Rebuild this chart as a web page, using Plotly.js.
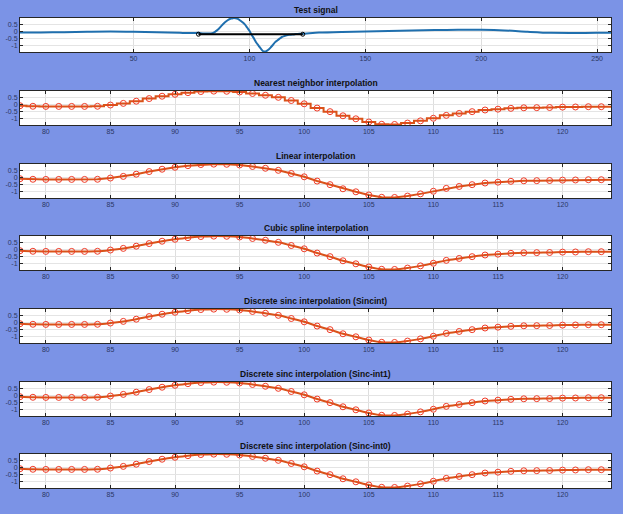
<!DOCTYPE html>
<html>
<head>
<meta charset="utf-8">
<script src="https://cdn.plot.ly/plotly-3.0.1.min.js"></script>
<style>
  html, body { margin: 0; padding: 0; background: #7b93e6; }
  #chart { width: 623px; height: 514px; }
</style>
</head>
<body>
<div id="chart"></div>
<script>
// ---------------- data ----------------
const panelTitles = [
  "Test signal",
  "Nearest neighbor interpolation",
  "Linear interpolation",
  "Cubic spline interpolation",
  "Discrete sinc interpolation (Sincint)",
  "Discrete sinc interpolation (Sinc-int1)",
  "Discrete sinc interpolation (Sinc-int0)"
];

// samples of the zoomed fragment (integer positions)
const sampleX = [78, 79, 80, 81, 82, 83, 84, 85, 86, 87, 88, 89, 90, 91, 92, 93, 94, 95, 96, 97, 98, 99, 100,
                 101, 102, 103, 104, 105, 106, 107, 108, 109, 110, 111, 112, 113, 114, 115, 116, 117, 118, 119, 120, 121, 122, 123];
const sampleY = [-0.07, -0.11, -0.12, -0.12, -0.12, -0.12, -0.11, -0.02, 0.10, 0.26, 0.45, 0.62, 0.76, 0.88, 0.96, 0.99, 0.98, 0.93, 0.82, 0.69, 0.54, 0.31, 0.07,
                 -0.24, -0.50, -0.80, -1.02, -1.25, -1.42, -1.43, -1.33, -1.17, -0.98, -0.77, -0.63, -0.50, -0.38, -0.32, -0.26, -0.22, -0.21, -0.20, -0.17, -0.16, -0.14, -0.14];
// end of the interpolated curves (right edge)
const curveEndX = 123.75;
const curveEndY = -0.14;

// full test signal (1..256)
const testX = [1, 10, 20, 30, 40, 50, 60, 70, 77].concat(sampleX).concat(
               [130, 140, 150, 160, 170, 180, 190, 200, 210, 220, 230, 240, 250, 256]);
const testY = [-0.05, -0.05, -0.03, 0.0, 0.02, 0.0, -0.04, -0.08, -0.09].concat(sampleY).concat(
               [-0.06, -0.01, 0.02, 0.05, 0.10, 0.13, 0.14, 0.14, 0.10, 0.0, -0.08, -0.09, -0.08, -0.08]);

// marker of the zoomed region on the test signal
const regionX = [78, 123];
const regionY = [-0.18, -0.18];

const yTicks = [-1, -0.5, 0, 0.5];
const yTickText = ["-1", "-0.5", "0", "0.5"];
const xTicksTop = [50, 100, 150, 200, 250];
const xTicksZoom = [80, 85, 90, 95, 100, 105, 110, 115, 120];

// ---------------- layout helpers ----------------
const W = 623, H = 514;
const left = 20, right = 611;
const tops = [18, 91, 164, 236, 309, 382, 454];
const panelH = 34;
const lineShapes = [null, "hvh", "linear", "spline", "spline", "spline", "spline"];

const lineColor = "#d95319";
const markColor = "#f03c28";
const axisColor = "#262626";
const tickFont = { family: "Liberation Sans, Arial, sans-serif", size: 7, color: "#2b3764" };

const traces = [];
const layout = {
  width: W, height: H,
  paper_bgcolor: "#7b93e6",
  plot_bgcolor: "#ffffff",
  margin: { l: 0, r: 0, t: 0, b: 0 },
  showlegend: false,
  annotations: []
};

const xDom = [left / W, right / W];

for (let i = 0; i < 7; i++) {
  const n = i === 0 ? "" : String(i + 1);
  const top = tops[i], bot = top + panelH;
  const yDom = [1 - bot / H, 1 - top / H];
  layout["xaxis" + n] = {
    domain: xDom,
    anchor: "y" + n,
    range: i === 0 ? [1, 256] : [78, curveEndX],
    tickvals: i === 0 ? xTicksTop : xTicksZoom,
    ticks: "inside", ticklen: 3, tickcolor: axisColor,
    showline: true, linecolor: axisColor, linewidth: 1, mirror: "ticks",
    showgrid: true, gridcolor: "#dedede", gridwidth: 1,
    zeroline: false,
    tickfont: tickFont,
    fixedrange: true
  };
  layout["yaxis" + n] = {
    domain: yDom,
    anchor: "x" + n,
    range: [-1.47, 1.0],
    tickvals: yTicks, ticktext: yTickText,
    ticks: "inside", ticklen: 3, tickcolor: axisColor,
    showline: true, linecolor: axisColor, linewidth: 1, mirror: "ticks",
    showgrid: true, gridcolor: "#e4e4e4", gridwidth: 1,
    zeroline: false,
    tickfont: tickFont,
    fixedrange: true
  };
  layout.annotations.push({
    text: "<b>" + panelTitles[i] + "</b>",
    xref: "paper", yref: "paper",
    x: (xDom[0] + xDom[1]) / 2, y: yDom[1],
    xanchor: "center", yanchor: "bottom", yshift: 1,
    showarrow: false,
    font: { family: "Liberation Sans, Arial, sans-serif", size: 8.5, color: "#111111" }
  });

  if (i === 0) {
    traces.push({
      x: testX, y: testY, xaxis: "x", yaxis: "y",
      mode: "lines", line: { color: "#1f6fae", width: 2, shape: "spline", smoothing: 0.8 },
      hoverinfo: "skip"
    });
    traces.push({
      x: regionX, y: regionY, xaxis: "x", yaxis: "y",
      mode: "lines+markers",
      line: { color: "#000000", width: 2 },
      marker: { symbol: "circle-open", size: 4, color: "#000000", line: { width: 1 } },
      hoverinfo: "skip"
    });
  } else {
    traces.push({
      x: sampleX.concat([curveEndX]), y: sampleY.concat([curveEndY]),
      xaxis: "x" + n, yaxis: "y" + n,
      mode: "lines",
      line: { color: lineColor, width: 2, shape: lineShapes[i], smoothing: 0.9 },
      hoverinfo: "skip"
    });
    traces.push({
      x: sampleX, y: sampleY,
      xaxis: "x" + n, yaxis: "y" + n,
      mode: "markers",
      marker: { symbol: "circle-open", size: 6, color: markColor, line: { width: 1, color: markColor } },
      hoverinfo: "skip"
    });
  }
}

Plotly.newPlot("chart", traces, layout, { staticPlot: true, displayModeBar: false });
</script>
</body>
</html>
